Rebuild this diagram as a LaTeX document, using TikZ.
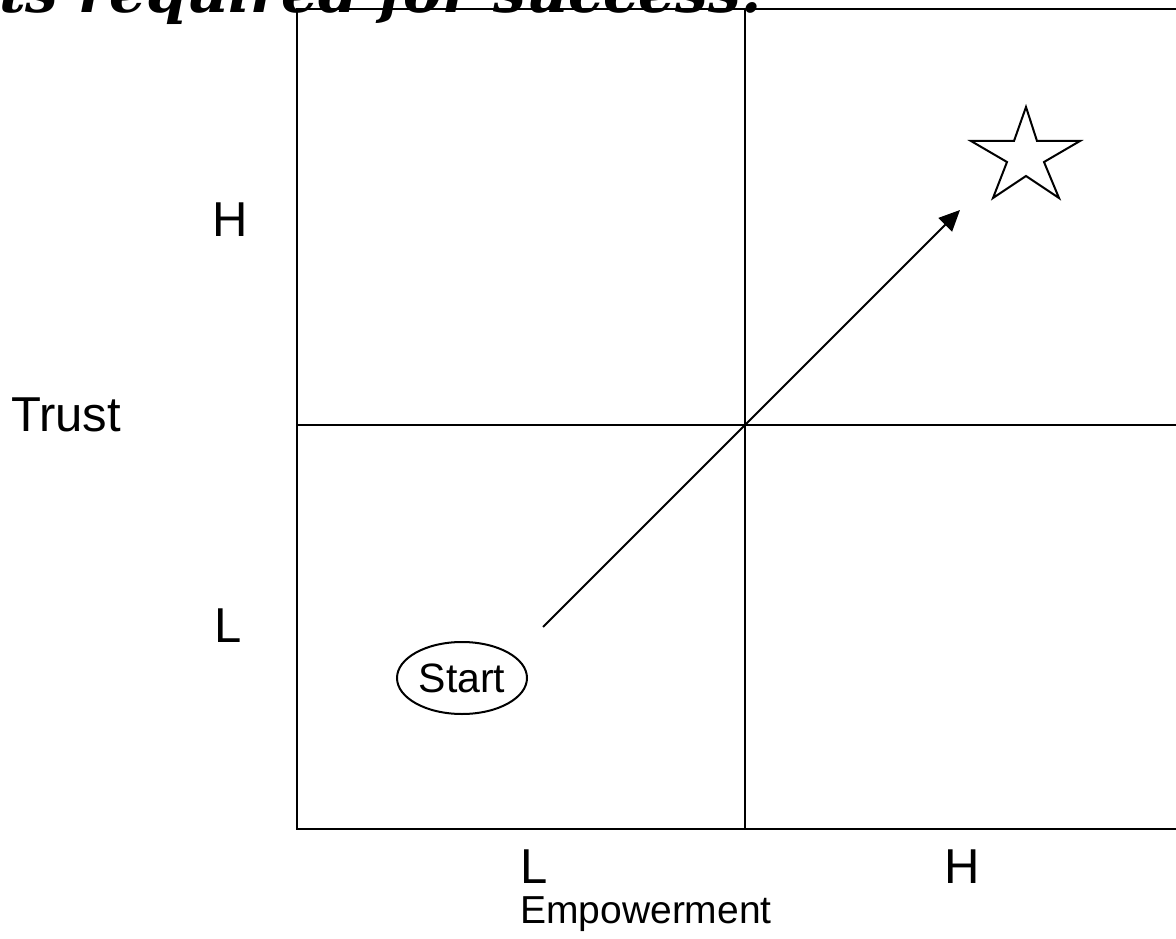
\documentclass[tikz,border=0pt]{standalone}
\usepackage{fontspec}
\setmainfont{Liberation Sans}
\newfontfamily\titlefont{DejaVu Serif}
\usetikzlibrary{arrows.meta,shapes.geometric}
\begin{document}
\begin{tikzpicture}[x=1pt,y=-1pt,line width=2pt,
  lbl/.style={font=\fontsize{49}{56}\selectfont,inner sep=0pt},
  startnode/.style={draw,ellipse,minimum width=130pt,minimum height=72pt,inner sep=0pt,font=\fontsize{41}{48}\selectfont},
  grid/.style={line width=2pt},
  arr/.style={line width=2pt,-{Triangle[length=21pt,width=19pt]}},
  titletext/.style={font=\titlefont\bfseries\itshape\fontsize{58}{68}\selectfont,inner sep=0pt}]
\useasboundingbox (0,0) rectangle (1176,939);
\clip (0,0) rectangle (1176,939);
% title (clipped at top)
\node[titletext,anchor=base west] (title) at (-2,13) {ts required for success.};
% grid
\coordinate (tl) at (297,9);
\coordinate (tr) at (1180,9);
\coordinate (bl) at (297,829);
\coordinate (br) at (1180,829);
\coordinate (mt) at (745,9);
\coordinate (mb) at (745,829);
\coordinate (ml) at (297,425);
\coordinate (mr) at (1180,425);
\draw[grid] (tr) -- (tl) -- (bl) -- (br);
\draw[grid] (mt) -- (mb);
\draw[grid] (ml) -- (mr);
% labels
\node[lbl] (hy) at (230,220) {H};
\node[lbl] (ly) at (228,626) {L};
\node[lbl] (trust) at (66,415) {Trust};
\node[lbl] (lx) at (534,867) {L};
\node[lbl] (hx) at (962,867) {H};
\node[lbl,font=\fontsize{39}{46}\selectfont,anchor=base] (emp) at (646,923) {Empowerment};
% start
\node[startnode] (start) at (462,678) {Start};
% arrow
\coordinate (a0) at (543,627);
\coordinate (a1) at (960,210);
\draw[arr] (a0) -- (a1);
% star
\coordinate (s1) at (1026,107);
\coordinate (s2) at (1037,141);
\coordinate (s3) at (1080,141);
\coordinate (s4) at (1044,162);
\coordinate (s5) at (1059,198);
\coordinate (s6) at (1026,176);
\coordinate (s7) at (993,198);
\coordinate (s8) at (1007,162);
\coordinate (s9) at (971,141);
\coordinate (s10) at (1014,141);
\draw[line width=2pt,line join=miter] (s1) -- (s2) -- (s3) -- (s4) -- (s5) -- (s6) -- (s7) -- (s8) -- (s9) -- (s10) -- cycle;
\end{tikzpicture}
\end{document}
